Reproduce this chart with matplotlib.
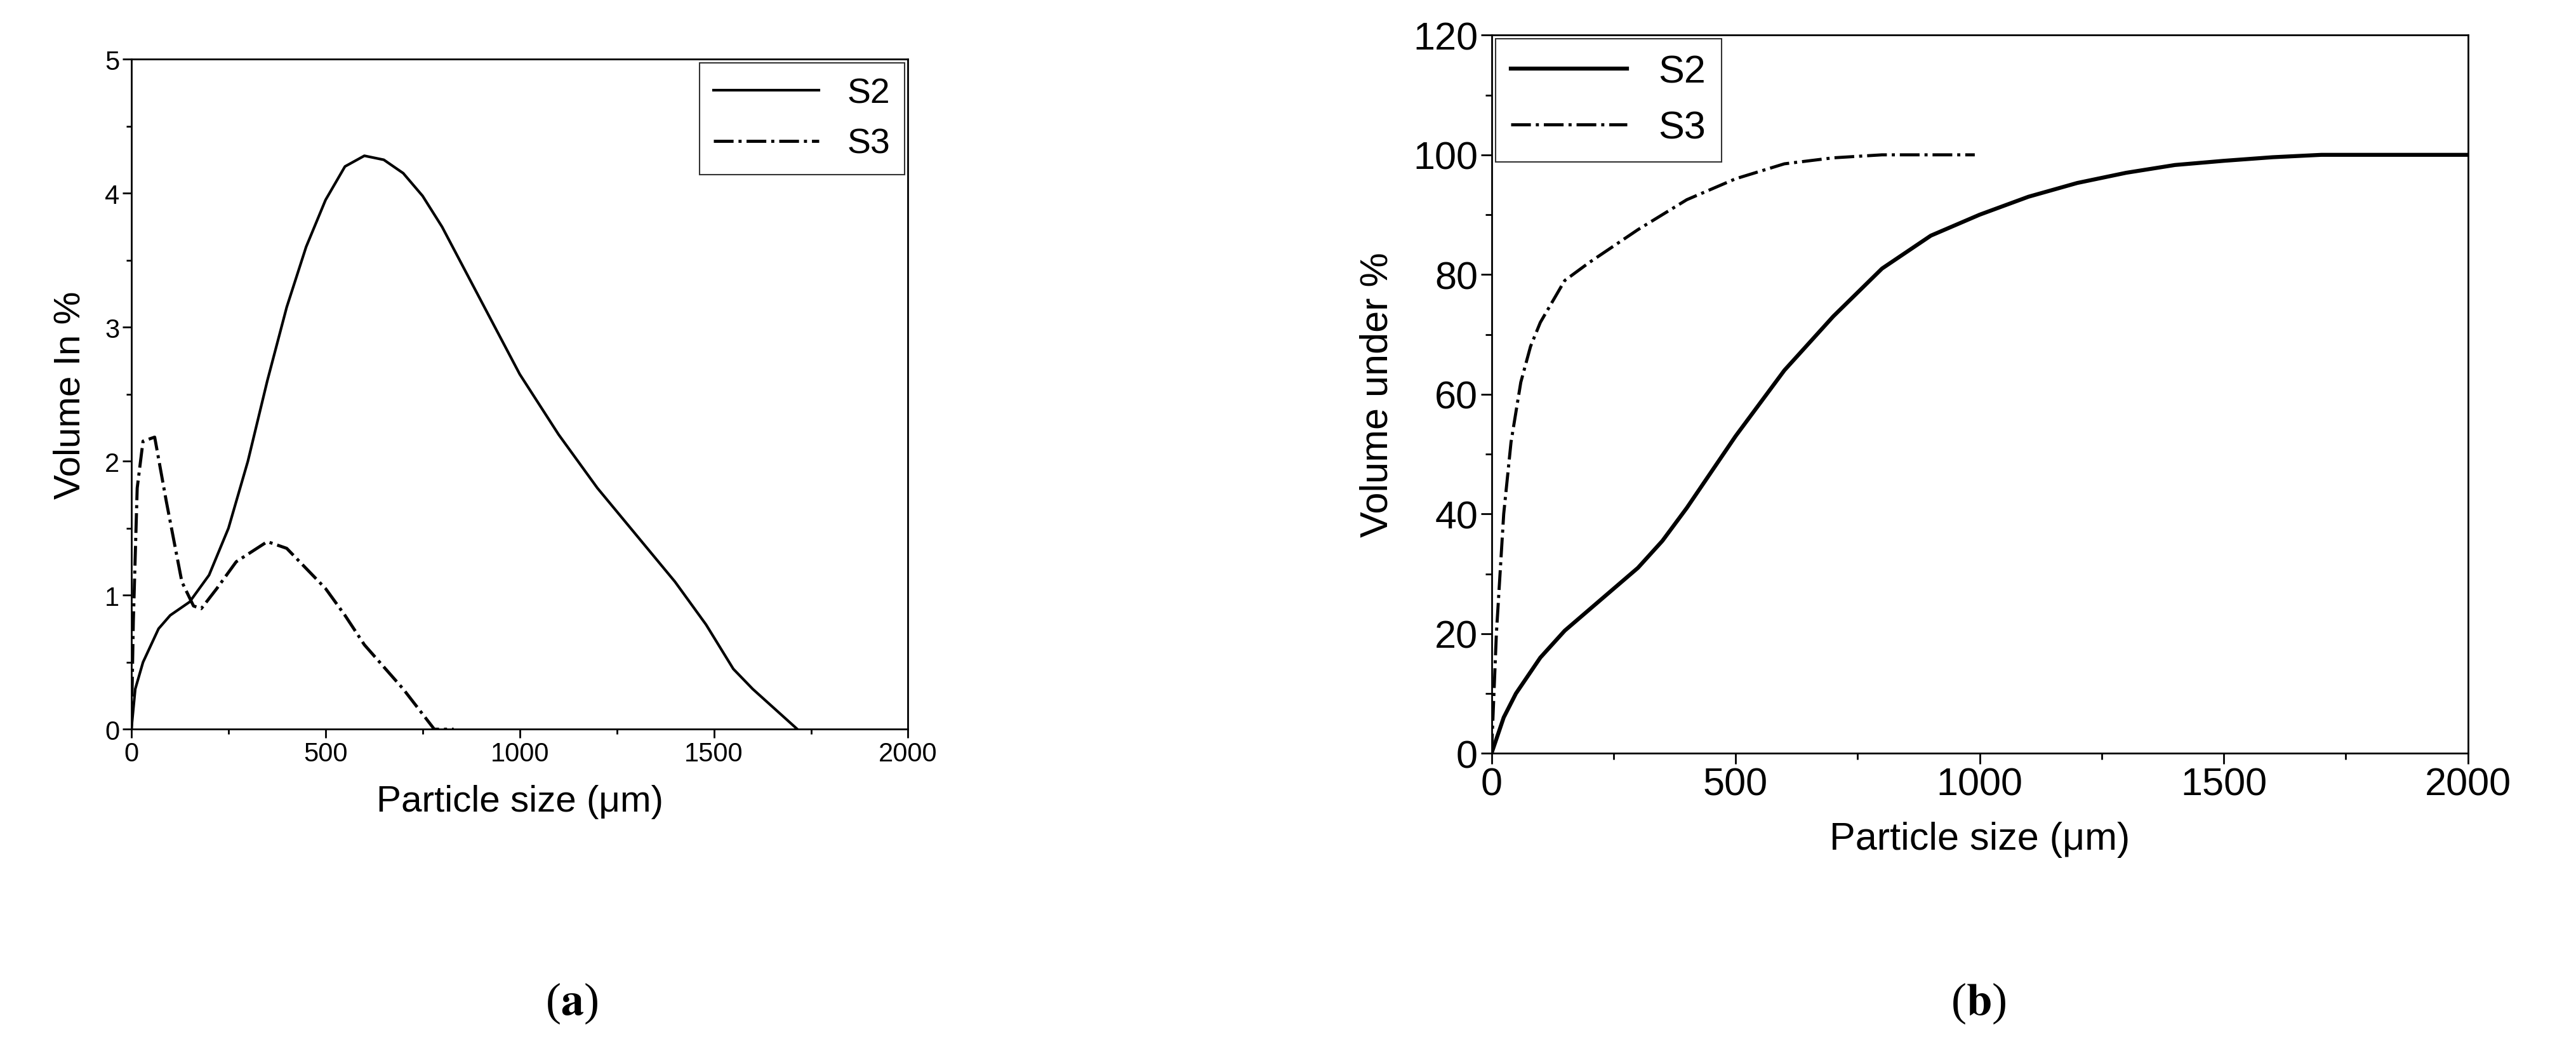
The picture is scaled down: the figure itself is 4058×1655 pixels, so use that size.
import numpy as np
import matplotlib.pyplot as plt
from matplotlib.ticker import MultipleLocator

plt.rcParams['font.family'] = ['Liberation Sans', 'DejaVu Sans']
plt.rcParams['mathtext.fontset'] = 'stix'

# (a) volume in %
a_s2_x = [0, 10, 30, 70, 100, 150, 200, 250, 300, 350, 400, 450, 500, 550, 600, 650, 700,
          750, 800, 900, 1000, 1100, 1200, 1300, 1400, 1480, 1550, 1600, 1715]
a_s2_y = [0, 0.3, 0.5, 0.75, 0.85, 0.95, 1.15, 1.5, 2.0, 2.6, 3.15, 3.6, 3.95, 4.2, 4.28, 4.25, 4.15,
          3.98, 3.75, 3.2, 2.65, 2.2, 1.8, 1.45, 1.1, 0.78, 0.45, 0.3, 0]
a_s3_x = [0, 5, 15, 30, 60, 90, 130, 160, 180, 220, 270, 350, 400, 450, 500, 550, 600, 700, 780, 830]
a_s3_y = [0, 0.8, 1.8, 2.15, 2.18, 1.7, 1.1, 0.92, 0.9, 1.05, 1.25, 1.4, 1.35, 1.2, 1.05, 0.85, 0.63, 0.3, 0.0, 0.0]

# (b) volume under %
b_s2_x = [0, 25, 50, 100, 150, 200, 250, 300, 350, 400, 450, 500, 600, 700, 800, 900, 1000, 1100,
          1200, 1300, 1400, 1500, 1600, 1700, 2000]
b_s2_y = [0, 6, 10, 16, 20.5, 24, 27.5, 31, 35.5, 41, 47, 53, 64, 73, 81, 86.5, 90, 93, 95.3, 97,
          98.3, 99, 99.6, 100, 100]
b_s3_x = [0, 10, 25, 40, 60, 80, 100, 150, 200, 300, 400, 500, 600, 700, 800, 990]
b_s3_y = [0, 20, 40, 52, 62, 68, 72, 79, 82, 87.5, 92.5, 96, 98.5, 99.5, 100, 100]

fig = plt.figure(figsize=(40.58, 16.56), dpi=100)
ax1 = fig.add_axes([0.051, 0.306, 0.3015, 0.637])
ax2 = fig.add_axes([0.579, 0.283, 0.379, 0.683])

ax1.plot(a_s2_x, a_s2_y, 'k-', lw=3, label='S2')
ax1.plot(a_s3_x, a_s3_y, 'k-.', lw=3.5, label='S3')
ax1.set_xlim(0, 2000)
ax1.set_ylim(0, 5)
ax1.xaxis.set_major_locator(MultipleLocator(500))
ax1.xaxis.set_minor_locator(MultipleLocator(250))
ax1.yaxis.set_major_locator(MultipleLocator(1))
ax1.yaxis.set_minor_locator(MultipleLocator(0.5))
ax1.tick_params(labelsize=30, width=2, length=10)
ax1.tick_params(which='minor', width=2, length=6)
ax1.set_xlabel('Particle size (μm)', fontsize=42, labelpad=20)
ax1.set_ylabel('Volume In %', fontsize=42, labelpad=20)
leg = ax1.legend(loc='upper right', fontsize=40, fancybox=False, edgecolor='k',
                 borderaxespad=0.1, handlelength=3)
leg.get_frame().set_linewidth(1.5)

ax2.plot(b_s2_x, b_s2_y, 'k-', lw=4.5, label='S2')
ax2.plot(b_s3_x, b_s3_y, 'k-.', lw=3.5, label='S3')
ax2.set_xlim(0, 2000)
ax2.set_ylim(0, 120)
ax2.xaxis.set_major_locator(MultipleLocator(500))
ax2.xaxis.set_minor_locator(MultipleLocator(250))
ax2.yaxis.set_major_locator(MultipleLocator(20))
ax2.yaxis.set_minor_locator(MultipleLocator(10))
ax2.tick_params(labelsize=44, width=2, length=12)
ax2.tick_params(which='minor', width=2, length=7)
ax2.set_xlabel('Particle size (μm)', fontsize=44, labelpad=20)
ax2.set_ylabel('Volume under %', fontsize=44, labelpad=20)
leg = ax2.legend(loc='upper left', fontsize=44, fancybox=False, edgecolor='k',
                 borderaxespad=0.1, handlelength=3)
leg.get_frame().set_linewidth(1.5)

for ax in (ax1, ax2):
    for s in ax.spines.values():
        s.set_linewidth(2)

fig.text(0.222, 0.035, r'($\mathbf{a}$)', fontsize=52, family='Liberation Serif', ha='center')
fig.text(0.768, 0.035, r'($\mathbf{b}$)', fontsize=52, family='Liberation Serif', ha='center')

fig.savefig('out.png', dpi=100)
